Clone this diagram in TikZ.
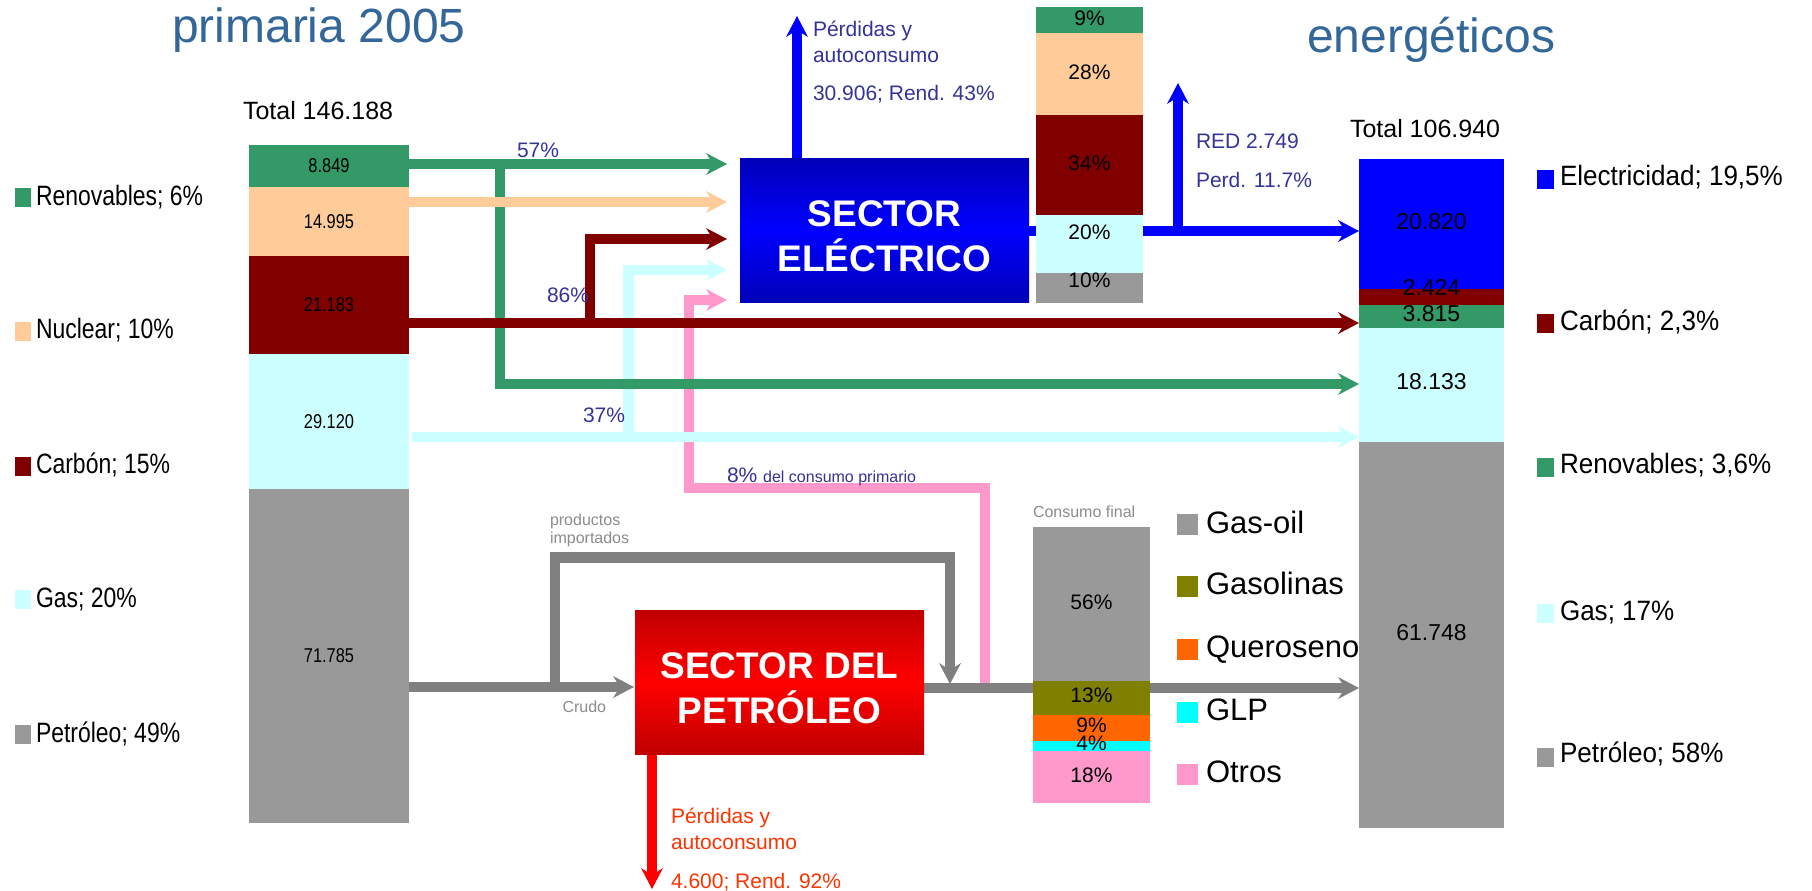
\documentclass[tikz,border=0pt]{standalone}
\usepackage{fontspec}
\setmainfont{Liberation Sans}
\newfontfamily\narrowL[FakeStretch=0.82]{Liberation Sans}
\newfontfamily\narrowR[FakeStretch=0.93]{Liberation Sans}
\usetikzlibrary{arrows.meta}
\newcommand\myfs[1]{\fontsize{#1}{#1}\selectfont}
\definecolor{cren}{HTML}{339966}
\definecolor{cnuc}{HTML}{FFCC99}
\definecolor{ccar}{HTML}{800000}
\definecolor{cgas}{HTML}{CCFFFF}
\definecolor{cpet}{HTML}{999999}
\definecolor{cline}{HTML}{808080}
\definecolor{cele}{HTML}{0000FF}
\definecolor{celedark}{HTML}{0000B8}
\definecolor{colive}{HTML}{808000}
\definecolor{corange}{HTML}{FF6600}
\definecolor{ccyan}{HTML}{00FFFF}
\definecolor{cpink}{HTML}{FF99CC}
\definecolor{ctitle}{HTML}{336699}
\definecolor{cannot}{HTML}{333399}
\definecolor{credtxt}{HTML}{FF3300}
\definecolor{cgraytxt}{HTML}{8C8C8C}
\definecolor{credline}{HTML}{FF0000}
\definecolor{creddark}{HTML}{C00000}
\tikzset{
  flow/.style={line width=5.2pt},
  arrowflow/.style={-{Stealth[length=10.5pt,width=11pt,inset=3.5pt,line width=0pt]}},
  seg/.style={inner sep=0pt,outer sep=0pt,draw=none},
  txt/.style={inner sep=0pt,outer sep=0pt,anchor=base west},
  lab/.style={inner sep=0pt,outer sep=0pt},
  sq/.style={inner sep=0pt,outer sep=0pt,draw=none},
  boxtxt/.style={inner sep=0pt,align=center,text=white,font=\bfseries\fontsize{18.5pt}{22.5pt}\selectfont},
}
\begin{document}
\begin{tikzpicture}[x=0.5pt,y=-0.5pt]
\useasboundingbox[fill=white] (0,0) rectangle (1812,890);

% ---------- coordinates ----------
\coordinate (seA) at (727,164);
\coordinate (seB) at (727,202);
\coordinate (seC) at (727,239);
\coordinate (seD) at (727,270);
\coordinate (seE) at (727,300);
\coordinate (rbA) at (1359,231);
\coordinate (rbC) at (1359,323);
\coordinate (rbR) at (1359,384);
\coordinate (rbG) at (1359,437);
\coordinate (rbP) at (1359,688);
\coordinate (gj) at (500,164);
\coordinate (cj) at (590,323);
\coordinate (gsj) at (628.5,437);
\coordinate (pj) at (985,688);
\coordinate (pmid) at (689,488);
\coordinate (rj) at (1178,231);
\coordinate (redTip) at (1178,83);
\coordinate (selossTip) at (797,16);
\coordinate (crudoTip) at (634,687);
\coordinate (ij) at (555,687);
\coordinate (impTop) at (950,557.5);
\coordinate (impTip) at (950,684);
\coordinate (petlossTip) at (652,889);

% ---------- boxes (defined first for anchors, drawn later) ----------
\path node[seg,minimum width=144.5pt,minimum height=72pt] (SE) at (884.5,230) {};
\path node[seg,minimum width=144.5pt,minimum height=72pt] (SP) at (779.5,682) {};

% ---------- electric flows ----------
\draw[flow,cele,arrowflow] (SE.east |- rbA) -- (rbA);
\draw[flow,cele,arrowflow] (rj) -- (redTip);
\draw[flow,cele,arrowflow] (SE.north -| selossTip) -- (selossTip);

% ---------- primary flows ----------
\draw[flow,cpink,arrowflow] (pj) |- (pmid) |- (seE);
\draw[flow,cgas,arrowflow] (gsj) |- (seD);
\draw[flow,cgas,arrowflow] (412,437) -- (rbG);
\draw[flow,cren,arrowflow] (gj) |- (rbR);
\draw[flow,cren,arrowflow] (409,164) -- (seA);
\draw[flow,cnuc,arrowflow] (409,202) -- (seB);
\draw[flow,ccar,arrowflow] (cj) |- (seC);
\draw[flow,ccar,arrowflow] (409,323) -- (rbC);

% ---------- petroleum flows ----------
\draw[flow,cline,arrowflow] (409,687) -- (crudoTip);
\draw[flow,cline,arrowflow] (ij) |- (impTop) -- (impTip);
\draw[flow,cline,arrowflow] (SP.east |- rbP) -- (rbP);
\draw[flow,credline,arrowflow] (SP.south -| petlossTip) -- (petlossTip);

% ---------- sector boxes ----------
\shade[top color=celedark,bottom color=celedark,middle color=cele] (SE.north west) rectangle (SE.south east);
\shade[top color=creddark,bottom color=creddark,middle color=credline] (SP.north west) rectangle (SP.south east);
\node[boxtxt] (SEt) at (884.5,236) {SECTOR\\ELÉCTRICO};
\node[boxtxt] (SPt) at (779.5,688) {SECTOR DEL\\PETRÓLEO};

% ---------- left bar (primary) ----------
\begin{scope}[every node/.style={seg,minimum width=80pt,font=\narrowL\myfs{10pt}}]
\node[fill=cren,minimum height=21pt] (Lren) at (329,166) {8.849};
\node[fill=cnuc,minimum height=34.5pt] (Lnuc) at (329,221.5) {14.995};
\node[fill=ccar,minimum height=49pt] (Lcar) at (329,305) {21.183};
\node[fill=cgas,minimum height=67.5pt] (Lgas) at (329,421.5) {29.120};
\node[fill=cpet,minimum height=167pt] (Lpet) at (329,656) {71.785};
\end{scope}

% ---------- middle bar (electricity mix) ----------
\begin{scope}[every node/.style={seg,minimum width=53.5pt}]
\node[fill=cren,minimum height=13pt] (Mren) at (1089.5,20) {};
\node[fill=cnuc,minimum height=41pt] (Mnuc) at (1089.5,74) {};
\node[fill=ccar,minimum height=50pt] (Mcar) at (1089.5,165) {};
\node[fill=cgas,minimum height=29pt] (Mgas) at (1089.5,244) {};
\node[fill=cpet,minimum height=15pt] (Mpet) at (1089.5,288) {};
\end{scope}
\begin{scope}[every node/.style={lab,font=\myfs{10.5pt}}]
\node (m1) at (1089.5,18) {9\%};
\node (m2) at (1089.5,72) {28\%};
\node (m3) at (1089.5,163) {34\%};
\node (m4) at (1089.5,232) {20\%};
\node (m5) at (1089.5,280) {10\%};
\end{scope}

% ---------- right bar (final) ----------
\begin{scope}[every node/.style={seg,minimum width=72.5pt}]
\node[fill=cele,minimum height=65pt] (Rele) at (1431.5,224) {};
\node[fill=ccar,minimum height=8pt] (Rcar) at (1431.5,297) {};
\node[fill=cren,minimum height=11.5pt] (Rren) at (1431.5,316.5) {};
\node[fill=cgas,minimum height=57pt] (Rgas) at (1431.5,385) {};
\node[fill=cpet,minimum height=193pt] (Rpet) at (1431.5,635) {};
\end{scope}
\begin{scope}[every node/.style={lab,font=\myfs{11.5pt}}]
\node (r1) at (1431.5,222) {20.820};
\node (r2) at (1431.5,287) {2.424};
\node (r3) at (1431.5,314) {3.815};
\node (r4) at (1431.5,382) {18.133};
\node (r5) at (1431.5,633) {61.748};
\end{scope}

% ---------- consumo final bar ----------
\begin{scope}[every node/.style={seg,minimum width=58.5pt}]
\node[fill=cpet,minimum height=77pt] (Cgo) at (1091.5,604) {};
\node[fill=colive,minimum height=17pt] (Cgl) at (1091.5,698) {};
\node[fill=corange,minimum height=13pt] (Cqu) at (1091.5,728) {};
\node[fill=ccyan,minimum height=5pt] (Cglp) at (1091.5,746) {};
\node[fill=cpink,minimum height=26pt] (Cot) at (1091.5,777) {};
\end{scope}
\begin{scope}[every node/.style={lab,font=\myfs{10.5pt}}]
\node (c1) at (1091.5,602) {56\%};
\node (c2) at (1091.5,695) {13\%};
\node (c3) at (1091.5,725) {9\%};
\node (c4) at (1091.5,743) {4\%};
\node (c5) at (1091.5,775) {18\%};
\end{scope}

% ---------- titles & totals ----------
\node[txt,text=ctitle,font=\myfs{24pt}] (title1) at (172,42) {primaria 2005};
\node[txt,text=ctitle,font=\myfs{24pt}] (title2) at (1307,52) {energéticos};
\node[txt,font=\myfs{12.5pt}] (tot1) at (243,119) {Total 146.188};
\node[txt,font=\myfs{12.5pt}] (tot2) at (1350,137) {Total 106.940};

% ---------- left legend ----------
\begin{scope}[every node/.style={sq,minimum width=8pt,minimum height=9.5pt}]
\node[fill=cren] (lq1) at (22.5,197.5) {};
\node[fill=cnuc] (lq2) at (22.5,331.5) {};
\node[fill=ccar] (lq3) at (22.5,466.5) {};
\node[fill=cgas] (lq4) at (22.5,599.5) {};
\node[fill=cpet] (lq5) at (22.5,734.5) {};
\end{scope}
\begin{scope}[every node/.style={txt,font=\narrowL\myfs{14pt}}]
\node (lt1) at (36,205) {Renovables; 6\%};
\node (lt2) at (36,338) {Nuclear; 10\%};
\node (lt3) at (36,473) {Carbón; 15\%};
\node (lt4) at (36,607) {Gas; 20\%};
\node (lt5) at (36,742) {Petróleo; 49\%};
\end{scope}

% ---------- right legend ----------
\begin{scope}[every node/.style={sq,minimum width=8.5pt,minimum height=9.5pt}]
\node[fill=cele] (rq1) at (1545.5,179.5) {};
\node[fill=ccar] (rq2) at (1545.5,323.5) {};
\node[fill=cren] (rq3) at (1545.5,467.5) {};
\node[fill=cgas] (rq4) at (1545.5,613.5) {};
\node[fill=cpet] (rq5) at (1545.5,757.5) {};
\end{scope}
\begin{scope}[every node/.style={txt,font=\narrowR\myfs{14pt}}]
\node (rt1) at (1560,185) {Electricidad; 19,5\%};
\node (rt2) at (1560,330) {Carbón; 2,3\%};
\node (rt3) at (1560,473) {Renovables; 3,6\%};
\node (rt4) at (1560,620) {Gas; 17\%};
\node (rt5) at (1560,762) {Petróleo; 58\%};
\end{scope}

% ---------- petroleum products legend ----------
\begin{scope}[every node/.style={sq,minimum width=10.5pt,minimum height=10.5pt}]
\node[fill=cpet] (pq1) at (1187.5,524.5) {};
\node[fill=colive] (pq2) at (1187.5,586.5) {};
\node[fill=corange] (pq3) at (1187.5,649) {};
\node[fill=ccyan] (pq4) at (1187.5,712.5) {};
\node[fill=cpink] (pq5) at (1187.5,774.5) {};
\end{scope}
\begin{scope}[every node/.style={txt,font=\myfs{15.5pt}}]
\node (pt1) at (1206,533) {Gas-oil};
\node (pt2) at (1206,594) {Gasolinas};
\node (pt3) at (1206,657) {Queroseno};
\node (pt4) at (1206,720) {GLP};
\node (pt5) at (1206,782) {Otros};
\end{scope}

% ---------- annotations ----------
\begin{scope}[every node/.style={txt,text=cannot,font=\myfs{10.5pt}}]
\node (a1) at (813,36) {Pérdidas y};
\node (a2) at (813,62) {autoconsumo};
\node (a3) at (813,100) {30.906; Rend. 43\%};
\node (a4) at (1196,148) {RED 2.749};
\node (a5) at (1196,187) {Perd. 11.7\%};
\node (a6) at (517,157) {57\%};
\node (a7) at (547,302) {86\%};
\node (a8) at (583,422) {37\%};
\node (a9) at (727,482) {8\% {\myfs{8pt}del consumo primario}};
\end{scope}
\begin{scope}[every node/.style={txt,text=cgraytxt,font=\myfs{8pt}}]
\node (g1) at (550,525) {productos};
\node (g2) at (550,543) {importados};
\node (g3) at (562.5,712) {Crudo};
\node (g4) at (1033,517) {Consumo final};
\end{scope}
\begin{scope}[every node/.style={txt,text=credtxt,font=\myfs{10.5pt}}]
\node (e1) at (671,823) {Pérdidas y};
\node (e2) at (671,849) {autoconsumo};
\node (e3) at (671,888) {4.600; Rend. 92\%};
\end{scope}
\end{tikzpicture}
\end{document}
